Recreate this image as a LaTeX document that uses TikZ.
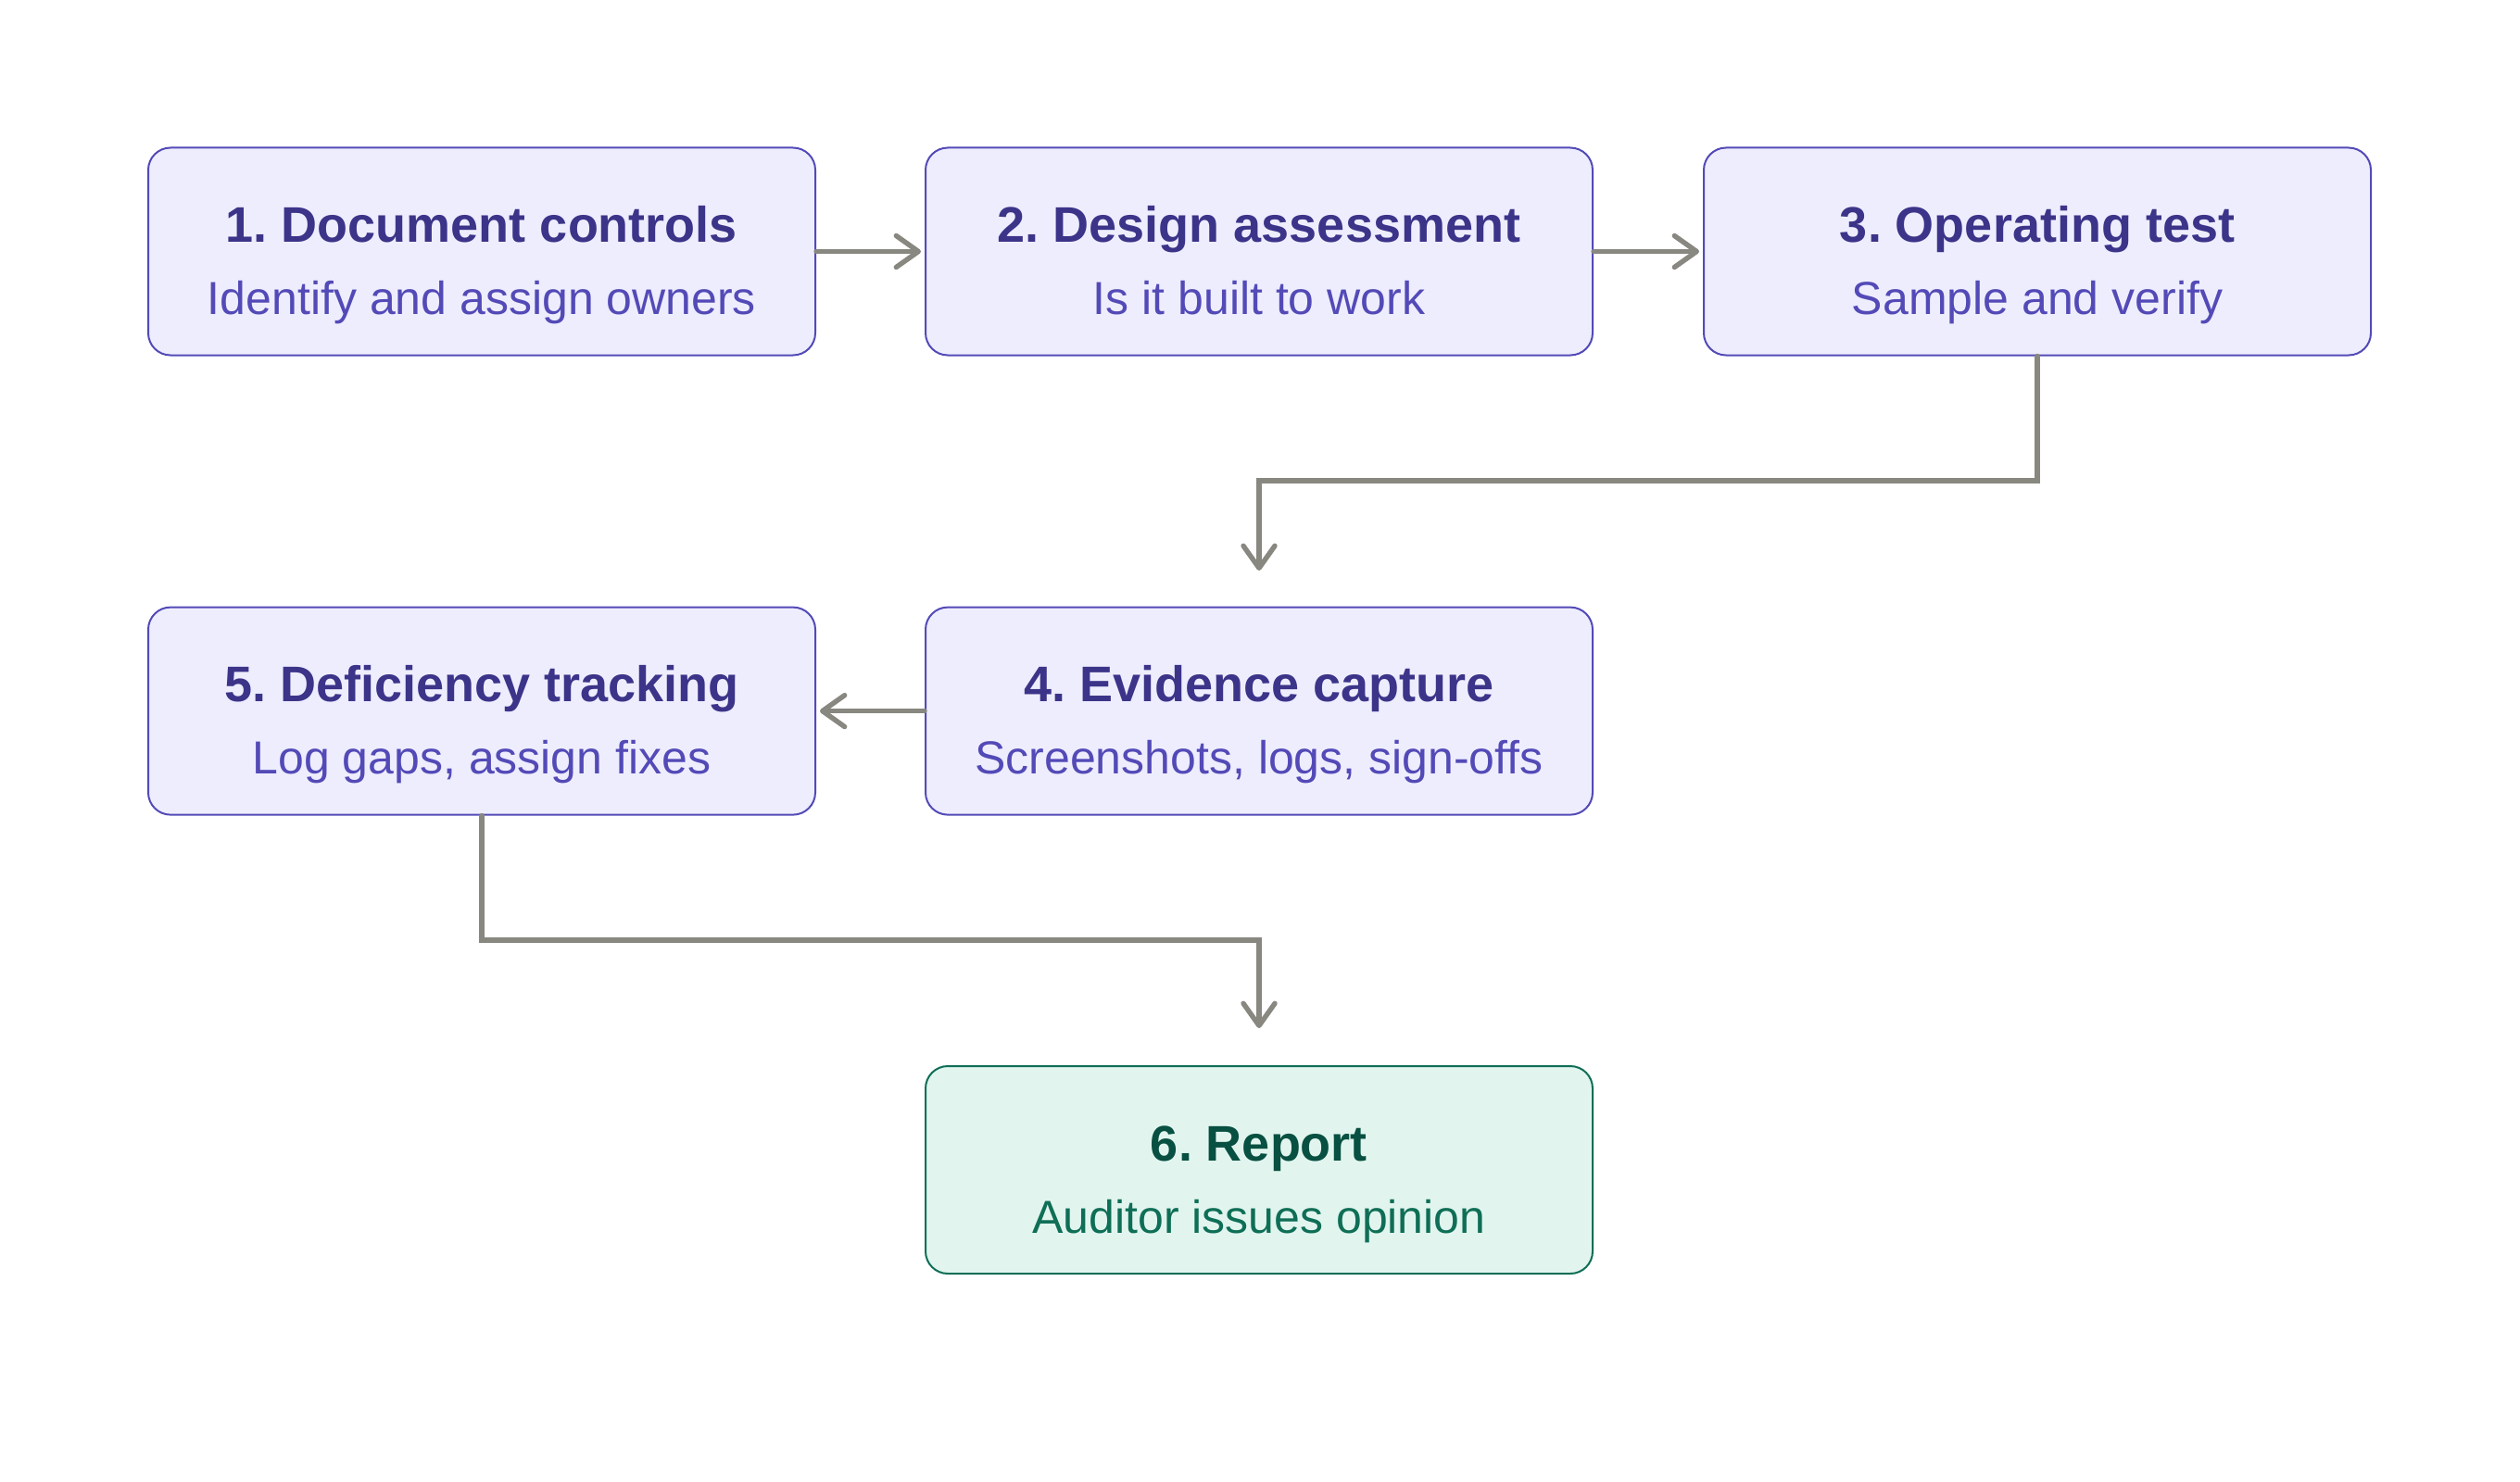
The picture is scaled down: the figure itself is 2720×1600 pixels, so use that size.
\documentclass[tikz,border=0pt]{standalone}
\usepackage{fontspec}
\setmainfont{Liberation Sans}
\usetikzlibrary{arrows.meta}
\frenchspacing
\definecolor{pfill}{HTML}{EEEDFE}
\definecolor{pdraw}{HTML}{534AB7}
\definecolor{ptitle}{HTML}{3C3489}
\definecolor{psub}{HTML}{534AB7}
\definecolor{gfill}{HTML}{E1F5EE}
\definecolor{gdraw}{HTML}{0F6E56}
\definecolor{gtitle}{HTML}{085041}
\definecolor{gsub}{HTML}{0F6E56}
\definecolor{arrc}{HTML}{888780}
\begin{document}
\begin{tikzpicture}[x=0.5pt,y=-0.5pt,
  stepbox/.style={draw=pdraw, fill=pfill, line width=1pt, rounded corners=12pt,
    minimum width=360pt, minimum height=112pt, inner sep=0pt},
  endbox/.style={stepbox, draw=gdraw, fill=gfill},
  ttl/.style={anchor=base, text=ptitle, font=\fontsize{27}{32}\selectfont\bfseries\frenchspacing, inner sep=0pt},
  sub/.style={anchor=base, text=psub, font=\fontsize{25}{30}\selectfont\frenchspacing, inner sep=0pt},
  gttl/.style={ttl, text=gtitle},
  gsub/.style={sub, text=gsub},
  arr/.style={draw=arrc, line width=2.7pt, line cap=round, line join=miter,
    -{Straight Barb[length=12pt,width=17pt,line cap=round,line join=round]}},
]
\useasboundingbox (0,0) rectangle (2720,1600);

\node[stepbox] (b1) at (520,271.5) {};
\node[stepbox] (b2) at (1359,271.5) {};
\node[stepbox] (b3) at (2199,271.5) {};
\node[stepbox] (b4) at (1359,767.6) {};
\node[stepbox] (b5) at (520,767.6) {};
\node[endbox]  (b6) at (1359,1263) {};

\node[ttl] (t1) at ([yshift=5pt]b1.center) {1. Document controls};
\node[sub] (s1) at ([yshift=-34pt]b1.center) {Identify and assign owners};
\node[ttl] (t2) at ([yshift=5pt]b2.center) {2. Design assessment};
\node[sub] (s2) at ([yshift=-34pt]b2.center) {Is it built to work};
\node[ttl] (t3) at ([yshift=5pt]b3.center) {3. Operating test};
\node[sub] (s3) at ([yshift=-34pt]b3.center) {Sample and verify};
\node[ttl] (t4) at ([yshift=5pt]b4.center) {4. Evidence capture};
\node[sub] (s4) at ([yshift=-34pt]b4.center) {Screenshots, logs, sign-offs};
\node[ttl] (t5) at ([yshift=5pt]b5.center) {5. Deficiency tracking};
\node[sub] (s5) at ([yshift=-34pt]b5.center) {Log gaps, assign fixes};
\node[gttl] (t6) at ([yshift=5pt]b6.center) {6. Report};
\node[gsub] (s6) at ([yshift=-34pt]b6.center) {Auditor issues opinion};

\coordinate (k34) at (1359,519);
\coordinate (e4) at (1359,616);
\coordinate (k56) at (1359,1015);
\coordinate (e6) at (1359,1110);

\draw[arr, shorten >=2pt] (b1.east) -- (b2.west);
\draw[arr, shorten >=2pt] (b2.east) -- (b3.west);
\draw[arr] (b3.south) |- (k34) -- (e4);
\draw[arr, shorten >=2pt] (b4.west) -- (b5.east);
\draw[arr] (b5.south) |- (k56) -- (e6);
\end{tikzpicture}
\end{document}
